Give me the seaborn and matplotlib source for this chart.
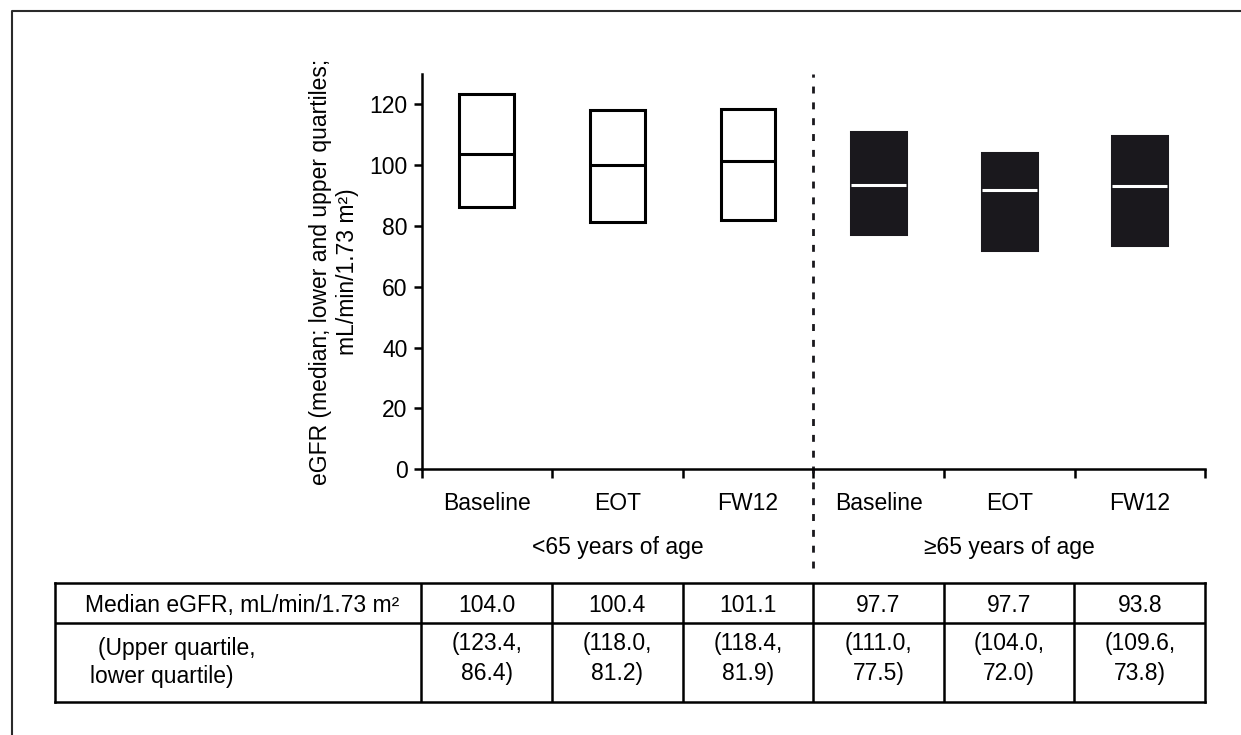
import numpy as np
import pandas as pd
import matplotlib
matplotlib.use("Agg")
import matplotlib.pyplot as plt
import seaborn as sns
from matplotlib.lines import Line2D

# =====================================================
# DATA
# =====================================================

timepoints = ["Baseline", "EOT", "FW12"]
age_groups = ["<65 years of age", "≥65 years of age"]

upper_q = [123.4, 118.0, 118.4, 111.0, 104.0, 109.6]
lower_q = [86.4, 81.2, 81.9, 77.5, 72.0, 73.8]
median_drawn = [103.8, 100.0, 101.3, 93.5, 91.9, 93.1]   # median lines as drawn
median_table = [104.0, 100.4, 101.1, 97.7, 97.7, 93.8]   # medians printed in table

y_label = "eGFR (median; lower and upper quartiles;\nmL/min/1.73 m²)"
row_label = "Median eGFR, mL/min/1.73 m²"
row_label2 = ["(Upper quartile,", "lower quartile)"]

# =====================================================
# STYLE
# =====================================================

sns.set_style("ticks")
plt.rcParams["font.family"] = ["Liberation Sans", "DejaVu Sans"]
plt.rcParams["font.size"] = 16.5
for key in ["text.color", "axes.labelcolor", "xtick.color", "ytick.color",
            "axes.edgecolor"]:
    plt.rcParams[key] = "black"
dark = "#1a181d"
fs = 16.5

# long table for boxplot: lower, lower, median, upper, upper -> box = quartiles
keys = [f"{g}|{t}" for g in age_groups for t in timepoints]
rows = []
for i, k in enumerate(keys):
    for v in (lower_q[i], lower_q[i], median_drawn[i], upper_q[i], upper_q[i]):
        rows.append({"key": k, "group": age_groups[i // 3], "eGFR": v})
df = pd.DataFrame(rows)

W, H = 1241, 735
fig = plt.figure(figsize=(W / 100, H / 100), dpi=100)
ax = fig.add_axes([421.5 / W, 1 - 469.3 / H, 783.6 / W, 395.3 / H])

box_kw = dict(x="key", y="eGFR", order=keys, width=0.42, whis=0,
              showcaps=False, showfliers=False, saturation=1,
              linewidth=2.2, ax=ax)

sns.boxplot(data=df[df["group"] == age_groups[0]], color="white",
            linecolor="black",
            medianprops=dict(color="black", linewidth=2.2), **box_kw)
sns.boxplot(data=df[df["group"] == age_groups[1]], color=dark,
            linecolor=dark,
            medianprops=dict(color="white", linewidth=2.2), **box_kw)

# =====================================================
# AXES
# =====================================================

ax.set_xlim(-0.5, 5.5)
ax.set_ylim(0, 130)
ax.set_yticks(range(0, 121, 20))
ax.set_xticks(range(6))
ax.set_xticklabels(timepoints * 2)
ax.set_xticks(np.arange(-0.5, 6, 1), minor=True)
ax.tick_params(axis="x", which="major", length=0, pad=16, labelsize=fs)
ax.tick_params(axis="x", which="minor", length=6.5, width=1.8, color="black")
ax.tick_params(axis="y", length=6, width=1.8, pad=4, labelsize=fs, color="black")
sns.despine(ax=ax)
for s in ["left", "bottom"]:
    ax.spines[s].set_linewidth(1.8)
    ax.spines[s].set_color("black")

ax.set_xlabel("")
ax.set_ylabel(y_label, fontsize=fs, multialignment="center")
ax.yaxis.set_label_coords(-0.08, 0.5)

for j, g in enumerate(age_groups):
    ax.text(1 + 3 * j, -0.197, g, transform=ax.get_xaxis_transform(),
            ha="center", va="center", fontsize=fs)

ax.plot([2.5, 2.5], [-0.25, 1], transform=ax.get_xaxis_transform(),
        ls=(0, (2.5, 3.2)), lw=2, color=dark, clip_on=False)

# =====================================================
# TABLE
# =====================================================

tax = fig.add_axes([55 / W, 1 - 702 / H, 1150 / W, 119 / H])
tax.set_xlim(-3.306, 5.5)
tax.set_ylim(3, 0)
tax.set_xticks([])
tax.set_yticks([])
for s in tax.spines.values():
    s.set_visible(True)
    s.set_linewidth(1.8)
    s.set_color("black")
tax.axhline(1, color="black", lw=1.8)
tax.vlines(np.arange(-0.5, 5, 1), 0, 3, color="black", lw=1.8)

tax.text(-3.076, 0.56, row_label, ha="left", va="center", fontsize=fs)
tax.text(-2.977, 1.65, row_label2[0], ha="left", va="center", fontsize=fs)
tax.text(-3.038, 2.36, row_label2[1], ha="left", va="center", fontsize=fs)
for i in range(6):
    tax.text(i, 0.56, f"{median_table[i]:.1f}", ha="center", va="center", fontsize=fs)
    tax.text(i, 1.52, f"({upper_q[i]:.1f},", ha="center", va="center", fontsize=fs)
    tax.text(i, 2.27, f"{lower_q[i]:.1f})", ha="center", va="center", fontsize=fs)

# frame line (top + left)
fig.add_artist(Line2D([11.5 / W, 11.5 / W, 1], [0, 1 - 11 / H, 1 - 11 / H],
                      transform=fig.transFigure, color="#2a2a2a", lw=1.5))

fig.savefig("out.png", dpi=100)
plt.close()
